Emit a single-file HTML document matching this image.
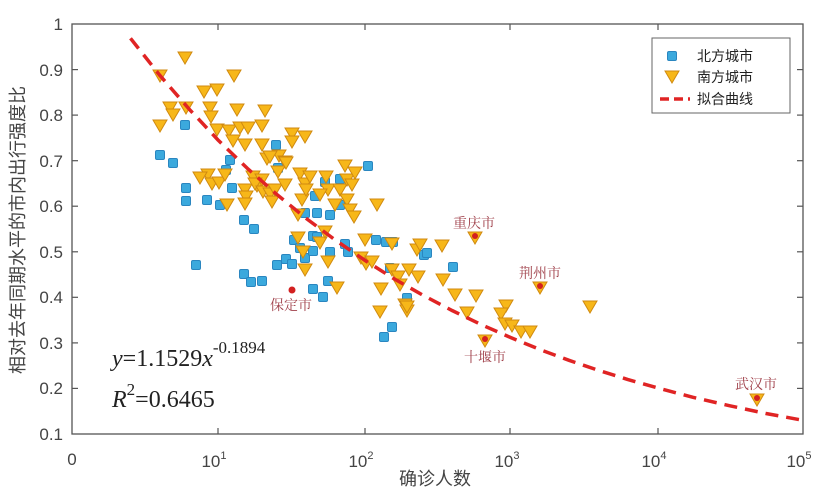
<!DOCTYPE html>
<html><head><meta charset="utf-8"><style>
body{margin:0;background:#fff;}
svg{display:block;font-family:"Liberation Sans","Noto Sans CJK SC",sans-serif;}
</style></head><body>
<svg width="830" height="501" viewBox="0 0 830 501">
<defs>
<rect id="s" x="-4.5" y="-4.5" width="9" height="9" rx="1.5" fill="#3ba9dd" stroke="#2a86c0" stroke-width="1"/>
<path id="t" d="M-7,-6 L7,-6 L0,6 Z" fill="#f7b719" stroke="#d08a10" stroke-width="1"/>
</defs>
<!-- axes -->
<rect x="72" y="24" width="731" height="410" fill="none" stroke="#555" stroke-width="1.3"/>
<g stroke="#555" stroke-width="1.2">
<line x1="218" y1="434" x2="218" y2="428"/><line x1="365" y1="434" x2="365" y2="428"/><line x1="510" y1="434" x2="510" y2="428"/><line x1="658" y1="434" x2="658" y2="428"/>
<line x1="218" y1="24" x2="218" y2="30"/><line x1="365" y1="24" x2="365" y2="30"/><line x1="510" y1="24" x2="510" y2="30"/><line x1="658" y1="24" x2="658" y2="30"/>
<line x1="72" y1="69.6" x2="78" y2="69.6"/><line x1="72" y1="115.1" x2="78" y2="115.1"/><line x1="72" y1="160.7" x2="78" y2="160.7"/><line x1="72" y1="206.2" x2="78" y2="206.2"/><line x1="72" y1="251.8" x2="78" y2="251.8"/><line x1="72" y1="297.3" x2="78" y2="297.3"/><line x1="72" y1="342.9" x2="78" y2="342.9"/><line x1="72" y1="388.4" x2="78" y2="388.4"/>
<line x1="803" y1="69.6" x2="797" y2="69.6"/><line x1="803" y1="115.1" x2="797" y2="115.1"/><line x1="803" y1="160.7" x2="797" y2="160.7"/><line x1="803" y1="206.2" x2="797" y2="206.2"/><line x1="803" y1="251.8" x2="797" y2="251.8"/><line x1="803" y1="297.3" x2="797" y2="297.3"/><line x1="803" y1="342.9" x2="797" y2="342.9"/><line x1="803" y1="388.4" x2="797" y2="388.4"/>
</g>
<g font-size="17" fill="#444" text-anchor="end">
<text x="63" y="30">1</text><text x="63" y="76">0.9</text><text x="63" y="121">0.8</text><text x="63" y="167">0.7</text><text x="63" y="212">0.6</text><text x="63" y="258">0.5</text><text x="63" y="303">0.4</text><text x="63" y="349">0.3</text><text x="63" y="394">0.2</text><text x="63" y="440">0.1</text>
</g>
<g font-size="17" fill="#444" text-anchor="middle">
<text x="72" y="465">0</text>
<text x="214" y="467">10<tspan font-size="11" dy="-8">1</tspan></text>
<text x="361" y="467">10<tspan font-size="11" dy="-8">2</tspan></text>
<text x="507" y="467">10<tspan font-size="11" dy="-8">3</tspan></text>
<text x="654" y="467">10<tspan font-size="11" dy="-8">4</tspan></text>
<text x="799" y="467">10<tspan font-size="11" dy="-8">5</tspan></text>
</g>
<text x="435" y="485" font-size="18" fill="#444" text-anchor="middle">确诊人数</text>
<text transform="translate(24,230) rotate(-90)" font-size="18" fill="#444" text-anchor="middle">相对去年同期水平的市内出行强度比</text>
<!-- points -->
<g>
<use href="#s" x="160" y="155"/><use href="#s" x="173" y="163"/><use href="#s" x="185" y="125"/><use href="#s" x="186" y="188"/><use href="#s" x="186" y="201"/><use href="#s" x="207" y="200"/><use href="#s" x="220" y="205"/><use href="#s" x="230" y="160"/><use href="#s" x="226" y="170"/><use href="#s" x="232" y="188"/><use href="#s" x="244" y="220"/><use href="#s" x="254" y="229"/><use href="#s" x="276" y="145"/><use href="#s" x="278" y="168"/><use href="#s" x="305" y="213"/><use href="#s" x="315" y="196"/><use href="#s" x="317" y="213"/><use href="#s" x="313" y="236"/><use href="#s" x="325" y="182"/><use href="#s" x="368" y="166"/><use href="#s" x="340" y="179"/>
<use href="#s" x="196" y="265"/><use href="#s" x="244" y="274"/><use href="#s" x="251" y="282"/><use href="#s" x="262" y="281"/><use href="#s" x="277" y="265"/><use href="#s" x="286" y="259"/><use href="#s" x="292" y="264"/><use href="#s" x="294" y="240"/><use href="#s" x="300" y="248"/><use href="#s" x="305" y="258"/><use href="#s" x="313" y="251"/><use href="#s" x="317" y="237"/><use href="#s" x="313" y="289"/><use href="#s" x="323" y="297"/><use href="#s" x="328" y="281"/><use href="#s" x="345" y="244"/><use href="#s" x="348" y="252"/><use href="#s" x="330" y="252"/><use href="#s" x="376" y="240"/><use href="#s" x="386" y="242"/><use href="#s" x="393" y="242"/><use href="#s" x="384" y="337"/><use href="#s" x="392" y="327"/><use href="#s" x="407" y="298"/><use href="#s" x="390" y="268"/><use href="#s" x="424" y="255"/><use href="#s" x="427" y="253"/><use href="#s" x="453" y="267"/><use href="#s" x="340" y="205"/><use href="#s" x="330" y="215"/>
</g>
<g>
<use href="#t" x="160" y="76"/><use href="#t" x="185" y="58"/><use href="#t" x="234" y="76"/><use href="#t" x="160" y="126"/><use href="#t" x="170" y="108"/><use href="#t" x="173" y="115"/><use href="#t" x="186" y="108"/><use href="#t" x="204" y="92"/><use href="#t" x="217" y="90"/><use href="#t" x="210" y="108"/><use href="#t" x="211" y="117"/><use href="#t" x="217" y="130"/><use href="#t" x="229" y="131"/><use href="#t" x="233" y="141"/><use href="#t" x="237" y="110"/><use href="#t" x="240" y="128"/><use href="#t" x="248" y="128"/><use href="#t" x="245" y="145"/><use href="#t" x="262" y="126"/><use href="#t" x="265" y="111"/><use href="#t" x="262" y="145"/><use href="#t" x="267" y="159"/><use href="#t" x="279" y="156"/><use href="#t" x="285" y="162"/><use href="#t" x="292" y="134"/><use href="#t" x="292" y="142"/><use href="#t" x="305" y="137"/><use href="#t" x="253" y="177"/><use href="#t" x="270" y="157"/><use href="#t" x="278" y="172"/><use href="#t" x="286" y="163"/><use href="#t" x="257" y="186"/><use href="#t" x="262" y="180"/><use href="#t" x="227" y="205"/><use href="#t" x="245" y="190"/><use href="#t" x="246" y="197"/><use href="#t" x="208" y="175"/><use href="#t" x="200" y="178"/><use href="#t" x="212" y="184"/><use href="#t" x="219" y="183"/><use href="#t" x="225" y="175"/><use href="#t" x="245" y="204"/><use href="#t" x="255" y="184"/><use href="#t" x="263" y="192"/><use href="#t" x="270" y="194"/><use href="#t" x="272" y="202"/><use href="#t" x="275" y="190"/><use href="#t" x="300" y="174"/><use href="#t" x="305" y="184"/><use href="#t" x="302" y="200"/><use href="#t" x="298" y="215"/><use href="#t" x="310" y="177"/><use href="#t" x="306" y="190"/><use href="#t" x="326" y="177"/><use href="#t" x="328" y="190"/><use href="#t" x="340" y="190"/><use href="#t" x="345" y="166"/><use href="#t" x="347" y="180"/><use href="#t" x="352" y="185"/><use href="#t" x="355" y="173"/><use href="#t" x="347" y="200"/><use href="#t" x="350" y="210"/><use href="#t" x="354" y="217"/><use href="#t" x="377" y="205"/><use href="#t" x="285" y="185"/><use href="#t" x="320" y="195"/><use href="#t" x="335" y="205"/>
<use href="#t" x="298" y="238"/><use href="#t" x="303" y="252"/><use href="#t" x="320" y="243"/><use href="#t" x="305" y="270"/><use href="#t" x="328" y="262"/><use href="#t" x="337" y="288"/><use href="#t" x="361" y="258"/><use href="#t" x="366" y="264"/><use href="#t" x="372" y="262"/><use href="#t" x="381" y="289"/><use href="#t" x="392" y="270"/><use href="#t" x="398" y="277"/><use href="#t" x="405" y="305"/><use href="#t" x="380" y="312"/><use href="#t" x="407" y="311"/><use href="#t" x="417" y="250"/><use href="#t" x="365" y="240"/><use href="#t" x="392" y="244"/><use href="#t" x="325" y="232"/>
<use href="#t" x="420" y="245"/><use href="#t" x="442" y="246"/><use href="#t" x="418" y="277"/><use href="#t" x="443" y="280"/><use href="#t" x="455" y="295"/><use href="#t" x="476" y="296"/><use href="#t" x="467" y="313"/><use href="#t" x="506" y="306"/><use href="#t" x="400" y="285"/><use href="#t" x="407" y="307"/><use href="#t" x="501" y="314"/><use href="#t" x="505" y="324"/><use href="#t" x="512" y="326"/><use href="#t" x="521" y="332"/><use href="#t" x="530" y="332"/><use href="#t" x="590" y="307"/><use href="#t" x="409" y="270"/>
<use href="#t" x="475" y="238"/><use href="#t" x="540" y="288"/><use href="#t" x="485" y="341"/><use href="#t" x="757" y="400"/>
</g>
<g fill="#d32020">
<circle cx="475" cy="236" r="3"/><circle cx="540" cy="286" r="3"/><circle cx="485" cy="339" r="3"/><circle cx="757" cy="398" r="3"/><circle cx="292" cy="290" r="3.5"/>
</g>
<g font-size="14" fill="#a0404a" font-family="'Liberation Serif','Noto Serif CJK SC',serif" text-anchor="middle">
<text x="474" y="228">重庆市</text><text x="540" y="278">荆州市</text><text x="485" y="362">十堰市</text><text x="756" y="389">武汉市</text><text x="291" y="310">保定市</text>
</g>
<!-- fit curve -->
<path d="M130.5,38.3 L159.7,75.2 L189,108.9 L218,140 L247.4,168.4 L276.7,194.3 L305.9,218.2 L335.2,240 L364.4,260 L393.6,278.5 L422.9,295.2 L452.1,310.5 L481.4,324.7 L510.6,337.5 L539.8,349.5 L569,360.3 L598.3,370.3 L627.5,379.4 L656.8,387.7 L693,397.3 L729.9,405.8 L766,413.5 L803,420.3" fill="none" stroke="#e02424" stroke-width="3.5" stroke-dasharray="13,8"/>
<!-- equation -->
<g font-family="'Liberation Serif',serif" fill="#222" font-size="24">
<text x="112" y="366"><tspan font-style="italic">y</tspan>=1.1529<tspan font-style="italic">x</tspan><tspan font-size="17" dy="-13">-0.1894</tspan></text>
<text x="112" y="407"><tspan font-style="italic">R</tspan><tspan font-size="17" dy="-12">2</tspan><tspan dy="12">=0.6465</tspan></text>
</g>
<!-- legend -->
<rect x="652" y="38" width="138" height="75" fill="#fff" stroke="#666" stroke-width="1"/>
<use href="#s" x="672" y="56"/>
<use href="#t" x="672" y="77"/>
<line x1="660" y1="99" x2="690" y2="99" stroke="#e02424" stroke-width="3.5" stroke-dasharray="9,5"/>
<g font-size="14" fill="#222">
<text x="697" y="61">北方城市</text><text x="697" y="82">南方城市</text><text x="697" y="104">拟合曲线</text>
</g>
</svg>
</body></html>
